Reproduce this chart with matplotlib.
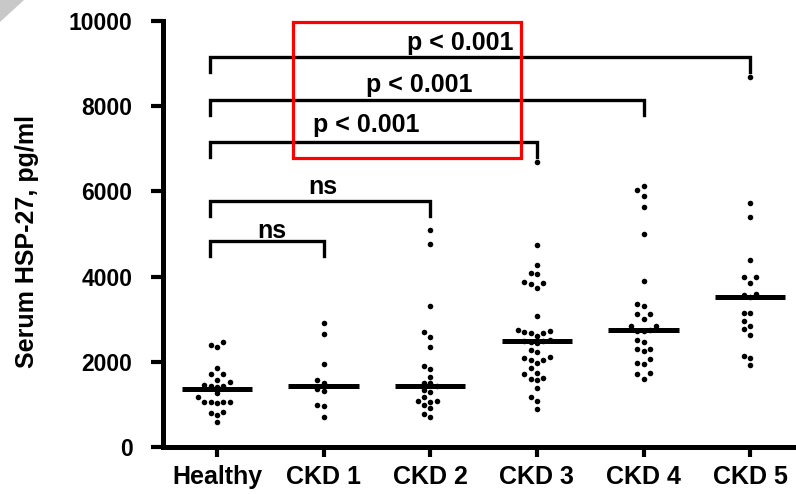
import matplotlib

matplotlib.use("Agg")

import matplotlib.pyplot as plt
import numpy as np
from matplotlib.patches import Polygon, Rectangle

plt.rcParams["font.family"] = ["Liberation Sans", "DejaVu Sans"]
plt.rcParams["font.weight"] = "bold"

groups = ["Healthy", "CKD 1", "CKD 2", "CKD 3", "CKD 4", "CKD 5"]

healthy = [2394, 2340, 2471, 1854, 1572, 1713, 1713, 1533, 1415, 1432, 1432, 1455,
           1260, 1166, 1049, 1033, 1049, 1049, 1049, 791, 744, 821, 580]
ckd1 = [2917, 2652, 1941, 1572, 1509, 1354, 1307, 986, 970, 712]
ckd2 = [5093, 4757, 3309, 2706, 2589, 2354, 1901, 1831, 1650, 1495, 1495, 1439,
        1338, 1298, 1181, 1080, 1080, 1060, 979, 908, 775, 697]
ckd3 = [6696, 4741, 4264, 4080, 4060, 3873, 3842, 3826, 3739, 3082,
        2750, 2730, 2706, 2668, 2668, 2612, 2520, 2500, 2480, 2460, 2440,
        2277, 2222, 2105, 2082, 2042, 2042, 1979, 1862,
        1730, 1713, 1612, 1589, 1572, 1392, 1166, 1087, 885]
ckd4 = [6126, 6032, 5891, 5626, 4992, 3896, 3356, 3309, 3122, 3122, 3004,
        2840, 2840, 2746, 2730, 2730, 2511, 2457, 2293, 2293, 2253,
        2058, 1979, 1941, 1730, 1713, 1589]
ckd5 = [8677, 5734, 5398, 4382, 3997, 3997, 3856, 3591, 3567, 3528, 3138, 3138,
        2965, 2840, 2762, 2629, 2143, 2082, 1925]
medians = [1354, 1432, 1439, 2495, 2746, 3528]

# comparisons against Healthy
compare_to = [1, 2, 3, 4, 5]
compare_labels = ["ns", "ns", "p < 0.001", "p < 0.001", "p < 0.001"]

# layout of the significance brackets
bracket_y = [4835, 5774, 7166, 8144, 9145]
text_x = [0.51, 0.99, 1.40, 1.90, 2.28]
text_y = [4898, 5938, 7400, 8339, 9318]


def swarm_offsets(values, ax, step_px=6.3):
    x0, y0 = ax.transData.transform((0, 0))
    x1, y1 = ax.transData.transform((1, 1000))
    px_x = x1 - x0
    px_y = (y1 - y0) / 1000.0
    placed = []
    offs = []
    for v in values:
        ypx = v * px_y
        for k in [0, -1, 1, -2, 2, -3, 3, -4, 4, -5, 5]:
            if all(c != k or abs(py - ypx) >= step_px for c, py in placed):
                break
        placed.append((k, ypx))
        offs.append(k * step_px / px_x)
    return np.array(offs)


fig = plt.figure(figsize=(7.96, 4.94), dpi=100)
ax = fig.add_axes([163 / 796, 47 / 494, 633 / 796, 426 / 494])
ax.set_xlim(-0.507, 5.43)
ax.set_ylim(0, 10000)

data = [healthy, ckd1, ckd2, ckd3, ckd4, ckd5]
for i, vals in enumerate(data):
    vals = np.sort(np.array(vals, dtype=float))
    xs = i + swarm_offsets(vals, ax)
    ax.scatter(xs, vals, s=16, color="black", linewidths=0, zorder=3, clip_on=False)
    ax.hlines(medians[i], i - 0.33, i + 0.33, color="black", lw=3.6, zorder=4)

tick_len = 350
for j, lbl, by, tx, ty in zip(compare_to, compare_labels, bracket_y, text_x, text_y):
    left = -0.065
    ax.plot([left, left, j, j], [by - tick_len, by, by, by - tick_len],
            color="black", lw=2.4, solid_joinstyle="miter", clip_on=False, zorder=5)
    ax.text(tx, ty, lbl, ha="center", va="baseline", fontsize=18,
            fontweight="bold", zorder=6)

ax.add_patch(Rectangle((0.713, 6783), 2.852 - 0.713, 9975 - 6783, fill=False,
                       edgecolor="red", lw=2.3, clip_on=False, zorder=7))

ax.set_xticks(range(len(groups)))
ax.set_xticklabels(groups, fontsize=18, fontweight="bold")
ax.set_yticks(np.arange(0, 10001, 2000))
ax.set_yticklabels([str(v) for v in range(0, 10001, 2000)], fontsize=16.5, fontweight="bold")
ax.tick_params(axis="y", length=9, width=3, pad=13)
ax.tick_params(axis="x", length=7, width=3, pad=6)
for side in ["top", "right"]:
    ax.spines[side].set_visible(False)
for side in ["left", "bottom"]:
    ax.spines[side].set_linewidth(3.6)

fig.text(27 / 796, 1 - 241 / 494, "Serum HSP-27, pg/ml", rotation=90,
         ha="center", va="center", fontsize=18, fontweight="bold")

# page corner shading at top left
fig.patches.append(Polygon([(0, 1), (24 / 796, 1), (0, 1 - 22 / 494)], closed=True,
                           transform=fig.transFigure, facecolor="#c8c8c8",
                           edgecolor="none"))

fig.savefig("out.png", dpi=100)
plt.close(fig)
